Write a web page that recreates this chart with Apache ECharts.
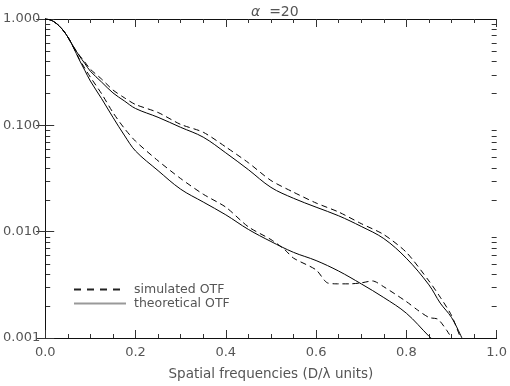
<!DOCTYPE html>
<html>
<head>
<meta charset="utf-8">
<script src="https://cdn.jsdelivr.net/npm/echarts@6/dist/echarts.min.js"></script>
<style>html,body{margin:0;padding:0;background:#fff}#c{width:510px;height:386px}</style>
</head>
<body>
<div id="c"></div>
<script>
// Spatial frequency samples (D/lambda units) and OTF values
const xTheoHigh = [0,0.0125,0.025,0.0375,0.05,0.0625,0.075,0.0875,0.1,0.125,0.15,0.175,0.2,0.25,0.3,0.35,0.4,0.45,0.5,0.55,0.6,0.65,0.7,0.75,0.8,0.85,0.875,0.9,0.923];
const theoHigh  = [1,0.977,0.906,0.804,0.678,0.55,0.454,0.383,0.323,0.255,0.202,0.170,0.144,0.119,0.0958,0.0774,0.0551,0.0383,0.0261,0.0206,0.0170,0.0141,0.0112,0.00861,0.00562,0.00316,0.00213,0.00156,0.001];

const xSimHigh  = [0,0.0125,0.025,0.0375,0.05,0.0625,0.075,0.0875,0.1,0.125,0.15,0.175,0.2,0.25,0.3,0.35,0.4,0.45,0.5,0.55,0.6,0.65,0.7,0.75,0.8,0.85,0.875,0.9,0.92];
const simHigh   = [1,0.977,0.906,0.804,0.678,0.55,0.46,0.395,0.337,0.272,0.215,0.182,0.157,0.132,0.102,0.0861,0.0626,0.0445,0.0303,0.0235,0.0186,0.0153,0.0119,0.00939,0.00639,0.00344,0.00242,0.00163,0.001];

const xTheoLow  = [0,0.0125,0.025,0.0375,0.05,0.0625,0.075,0.0875,0.1,0.125,0.15,0.175,0.2,0.25,0.3,0.35,0.4,0.45,0.5,0.55,0.6,0.65,0.7,0.75,0.8,0.85,0.855];
const theoLow   = [1,0.977,0.906,0.804,0.678,0.54,0.417,0.330,0.261,0.178,0.119,0.081,0.0574,0.0375,0.0251,0.0190,0.0144,0.0105,0.00808,0.00639,0.00535,0.00426,0.00323,0.00240,0.00171,0.00104,0.001];

const xSimLow   = [0,0.0125,0.025,0.0375,0.05,0.0625,0.075,0.0875,0.1,0.125,0.15,0.175,0.2,0.25,0.3,0.35,0.4,0.45,0.5,0.53,0.55,0.6,0.625,0.65,0.675,0.7,0.725,0.75,0.8,0.825,0.85,0.87,0.89,0.9];
const simLow    = [1,0.977,0.906,0.804,0.678,0.54,0.425,0.345,0.284,0.198,0.132,0.094,0.0710,0.0464,0.0316,0.0225,0.0170,0.0111,0.00843,0.00681,0.00564,0.00437,0.0033,0.00323,0.00323,0.0033,0.00344,0.00303,0.00220,0.00183,0.00156,0.00150,0.00117,0.001];

const yTickLabels = ['0.001','0.010','0.100','1.000'];
const xTickLabels = ['0.0','0.2','0.4','0.6','0.8','1.0'];

const pairs = (xs, ys) => xs.map((x, i) => [x, ys[i]]);
const txt = '#555';
const font = 'DejaVu Sans';

const chart = echarts.init(document.getElementById('c'), null, {renderer: 'canvas', width: 510, height: 386});

const axisCommonX = {
  type: 'value', min: 0, max: 1, interval: 0.2,
  axisLine: {show: true, lineStyle: {color: '#111', width: 1}},
  axisTick: {show: true, inside: true, length: 8, lineStyle: {color: '#333'}},
  minorTick: {show: true, splitNumber: 4, length: 4, lineStyle: {color: '#333'}},
  splitLine: {show: false}
};
const axisCommonY = {
  type: 'log', logBase: 10, min: 0.001, max: 1,
  axisLine: {show: true, lineStyle: {color: '#111', width: 1}},
  axisTick: {show: true, inside: true, length: 9, lineStyle: {color: '#333'}},
  minorTick: {show: false},
  splitLine: {show: false}
};

const lineSeries = (name, data, dashed) => ({
  name, type: 'line', data, symbol: 'none', showSymbol: false, smooth: dashed ? 0.25 : 0.35,
  lineStyle: {color: '#000', width: 1, type: dashed ? [6, 4] : 'solid'},
  itemStyle: {color: '#000'},
  clip: true, animation: false
});

chart.setOption({
  animation: false,
  title: {
    text: '{a|α}  =20', left: 246, top: 0,
    textStyle: {fontFamily: font, fontSize: 14, fontWeight: 'normal', color: txt,
      rich: {a: {fontFamily: font, fontSize: 14, fontStyle: 'italic', color: txt}}}
  },
  grid: {left: 45, top: 19, width: 455, height: 324, containLabel: false},
  legend: {
    orient: 'vertical', left: 68, top: 278, itemGap: 1, itemWidth: 52, itemHeight: 13,
    data: [
      {name: 'simulated OTF', lineStyle: {type: [7, 6], color: '#222'}},
      {name: 'theoretical OTF', lineStyle: {type: 'solid', color: '#999'}}
    ],
    itemStyle: {opacity: 0},
    textStyle: {fontFamily: font, fontSize: 12.5, color: txt, padding: [0, 0, 0, 3]}
  },
  xAxis: [
    Object.assign({}, axisCommonX, {
      position: 'bottom',
      name: 'Spatial frequencies (D/λ units)', nameLocation: 'middle', nameGap: 29,
      nameTextStyle: {fontFamily: font, fontSize: 13.5, color: txt},
      axisLabel: {margin: 8, fontFamily: font, fontSize: 13, color: txt,
        formatter: v => xTickLabels[Math.round(v / 0.2)] }
    }),
    Object.assign({}, axisCommonX, {position: 'top', axisLabel: {show: false}})
  ],
  yAxis: [
    Object.assign({}, axisCommonY, {
      position: 'left',
      axisLabel: {margin: 5, fontFamily: font, fontSize: 13, color: txt,
        formatter: v => yTickLabels[Math.round(Math.log10(v)) + 3]}
    }),
    Object.assign({}, axisCommonY, {position: 'right', axisLabel: {show: false}})
  ],
  series: [
    lineSeries('simulated OTF', pairs(xSimHigh, simHigh), true),
    lineSeries('theoretical OTF', pairs(xTheoHigh, theoHigh), false),
    lineSeries('simulated OTF', pairs(xSimLow, simLow), true),
    lineSeries('theoretical OTF', pairs(xTheoLow, theoLow), false)
  ]
});

// log minor ticks (2..9 within each decade), placed via the axis scale
const xl = chart.convertToPixel({xAxisIndex: 0}, 0);
const xr = chart.convertToPixel({xAxisIndex: 0}, 1);
const g = [];
[0.001, 0.01, 0.1].forEach(d => {
  for (let k = 2; k <= 9; k++) {
    const y = Math.round(chart.convertToPixel({yAxisIndex: 0}, k * d)) + 0.5;
    g.push({type: 'line', shape: {x1: xl, y1: y, x2: xl + 5, y2: y}, style: {stroke: '#333', lineWidth: 1}, silent: true});
    g.push({type: 'line', shape: {x1: xr - 5, y1: y, x2: xr, y2: y}, style: {stroke: '#333', lineWidth: 1}, silent: true});
  }
});
chart.setOption({graphic: g});
</script>
</body>
</html>
